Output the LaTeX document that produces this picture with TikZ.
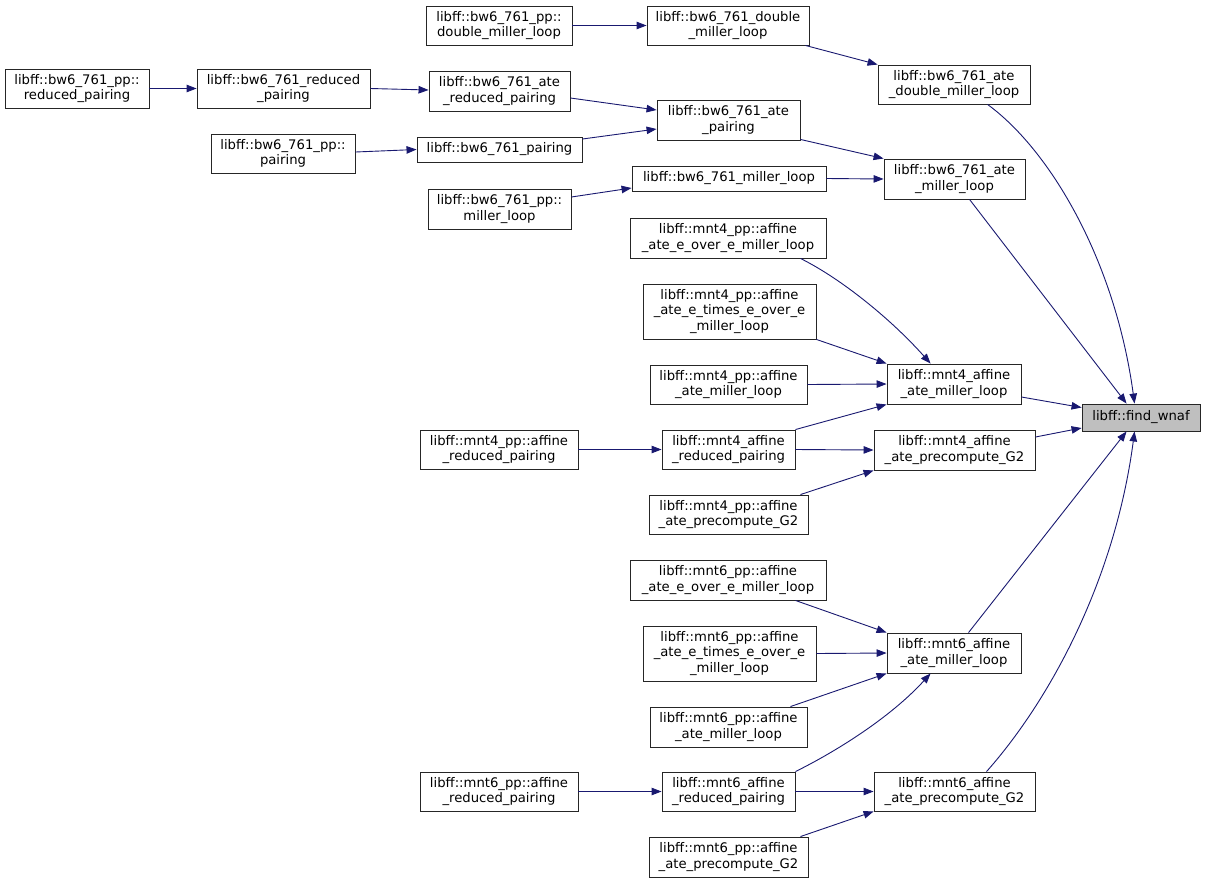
\documentclass[tikz,border=0pt]{standalone}
\usepackage{fontspec}
\newfontfamily\dejavu{DejaVu Sans}
\usetikzlibrary{arrows.meta,calc}
\definecolor{edgeblue}{HTML}{191970}
\definecolor{rootgray}{HTML}{BFBFBF}
\begin{document}
\begin{tikzpicture}[x=1pt,y=-1pt,
  box/.style={draw=black!85, line width=0.9pt, fill=white, inner sep=0pt, align=center,
    font=\dejavu\fontsize{13.2}{15.5}\selectfont},
  edge/.style={draw=edgeblue, line width=0.9pt, -{Triangle[length=10pt,width=7.5pt]}}]
\useasboundingbox (0,0) rectangle (1207,884);
% root
\node[box, fill=rootgray, minimum width=118, minimum height=27] (n1) at (1141,417.5) {libff::find\_wnaf};
% column 4
\node[box, minimum width=152, minimum height=39] (n2) at (954,84.5) {libff::bw6\_761\_ate\\\_double\_miller\_loop};
\node[box, minimum width=141, minimum height=40] (n3) at (954.5,179) {libff::bw6\_761\_ate\\\_miller\_loop};
\node[box, minimum width=134, minimum height=40] (n4) at (954,384) {libff::mnt4\_affine\\\_ate\_miller\_loop};
\node[box, minimum width=161, minimum height=40] (n5) at (954.5,450) {libff::mnt4\_affine\\\_ate\_precompute\_G2};
\node[box, minimum width=134, minimum height=40] (n6) at (954,653) {libff::mnt6\_affine\\\_ate\_miller\_loop};
\node[box, minimum width=161, minimum height=39] (n7) at (954.5,791.5) {libff::mnt6\_affine\\\_ate\_precompute\_G2};
% column 3
\node[box, minimum width=162, minimum height=39] (n8) at (728,25.5) {libff::bw6\_761\_double\\\_miller\_loop};
\node[box, minimum width=143, minimum height=40] (n9) at (728.5,120) {libff::bw6\_761\_ate\\\_pairing};
\node[box, minimum width=194, minimum height=25] (n10) at (729,178.5) {libff::bw6\_761\_miller\_loop};
\node[box, minimum width=196, minimum height=40] (n11) at (728,238) {libff::mnt4\_pp::affine\\\_ate\_e\_over\_e\_miller\_loop};
\node[box, minimum width=173, minimum height=55] (n12) at (729.5,311.5) {libff::mnt4\_pp::affine\\\_ate\_e\_times\_e\_over\_e\\\_miller\_loop};
\node[box, minimum width=157, minimum height=39] (n13) at (728.5,384.5) {libff::mnt4\_pp::affine\\\_ate\_miller\_loop};
\node[box, minimum width=133, minimum height=39] (n14) at (728.5,449.5) {libff::mnt4\_affine\\\_reduced\_pairing};
\node[box, minimum width=159, minimum height=39] (n15) at (728.5,514.5) {libff::mnt4\_pp::affine\\\_ate\_precompute\_G2};
\node[box, minimum width=196, minimum height=40] (n16) at (728,580) {libff::mnt6\_pp::affine\\\_ate\_e\_over\_e\_miller\_loop};
\node[box, minimum width=173, minimum height=55] (n17) at (729.5,653.5) {libff::mnt6\_pp::affine\\\_ate\_e\_times\_e\_over\_e\\\_miller\_loop};
\node[box, minimum width=157, minimum height=40] (n18) at (728.5,727) {libff::mnt6\_pp::affine\\\_ate\_miller\_loop};
\node[box, minimum width=133, minimum height=39] (n19) at (728.5,791.5) {libff::mnt6\_affine\\\_reduced\_pairing};
\node[box, minimum width=159, minimum height=40] (n20) at (728.5,857) {libff::mnt6\_pp::affine\\\_ate\_precompute\_G2};
% column 2
\node[box, minimum width=146, minimum height=39] (n21) at (499,25.5) {libff::bw6\_761\_pp::\\double\_miller\_loop};
\node[box, minimum width=141, minimum height=40] (n22) at (499.5,91) {libff::bw6\_761\_ate\\\_reduced\_pairing};
\node[box, minimum width=165, minimum height=25] (n23) at (499.5,149.5) {libff::bw6\_761\_pairing};
\node[box, minimum width=143, minimum height=40] (n24) at (499.5,209) {libff::bw6\_761\_pp::\\miller\_loop};
\node[box, minimum width=158, minimum height=39] (n25) at (499,449.5) {libff::mnt4\_pp::affine\\\_reduced\_pairing};
\node[box, minimum width=158, minimum height=39] (n26) at (499,791.5) {libff::mnt6\_pp::affine\\\_reduced\_pairing};
% column 1
\node[box, minimum width=173, minimum height=39] (n27) at (283.5,88.5) {libff::bw6\_761\_reduced\\\_pairing};
\node[box, minimum width=144, minimum height=39] (n28) at (283,153.5) {libff::bw6\_761\_pp::\\pairing};
\node[box, minimum width=144, minimum height=39] (n29) at (77,88.5) {libff::bw6\_761\_pp::\\reduced\_pairing};
% edges into root
\draw[edge] ($(n2.south west)+(110,0)$) .. controls (1050,150) and (1115,260) .. ($(n1.north west)+(53,0)$);
\draw[edge] ($(n3.south west)+(86,0)$) -- ($(n1.north west)+(45,0)$);
\draw[edge] ($(n4.east)+(0,13)$) -- ($(n1.west)+(0,-10)$);
\draw[edge] ($(n5.east)+(0,-13)$) -- ($(n1.west)+(0,10.5)$);
\draw[edge] ($(n6.north west)+(82,0)$) -- ($(n1.south west)+(45,0)$);
\draw[edge] ($(n7.north west)+(113,0)$) .. controls (1050,700) and (1115,580) .. ($(n1.south west)+(53,0)$);
% bw6 edges
\draw[edge] (n29.east) -- (n27.west);
\draw[edge] (n27.east) -- ($(n22.west)+(0,-1)$);
\draw[edge] ($(n28.east)+(0,-1.5)$) -- (n23.west);
\draw[edge] (n21.east) -- (n8.west);
\draw[edge] ($(n8.south east)+(-4,0)$) -- (n2.north west);
\draw[edge] ($(n22.east)+(0,7)$) -- ($(n9.west)+(0,-10)$);
\draw[edge] ($(n23.east)+(0,-10.5)$) -- ($(n9.west)+(0,9)$);
\draw[edge] ($(n9.south east)+(0,-1)$) -- (n3.north west);
\draw[edge] ($(n24.east)+(0,-12)$) -- ($(n10.west)+(0,9.5)$);
\draw[edge] (n10.east) -- (n3.west);
% mnt4 edges
\draw[edge] ($(n11.south east)+(-26,0)$) .. controls (840,278) and (890,318) .. ($(n4.north west)+(44,0)$);
\draw[edge] (n12.south east) -- (n4.north west);
\draw[edge] (n13.east) -- (n4.west);
\draw[edge] (n14.north east) -- (n4.south west);
\draw[edge] (n25.east) -- (n14.west);
\draw[edge] (n14.east) -- (n5.west);
\draw[edge] ($(n15.north east)+(-8,0)$) -- (n5.south west);
% mnt6 edges
\draw[edge] ($(n16.south east)+(-31,0)$) -- (n6.north west);
\draw[edge] (n17.east) -- (n6.west);
\draw[edge] ($(n18.north east)+(-17,0)$) -- (n6.south west);
\draw[edge] (n19.north east) .. controls (835,752) and (890,718) .. ($(n6.south west)+(44,0)$);
\draw[edge] (n26.east) -- (n19.west);
\draw[edge] (n19.east) -- (n7.west);
\draw[edge] ($(n20.north east)+(-8,0)$) -- (n7.south west);
\end{tikzpicture}
\end{document}
